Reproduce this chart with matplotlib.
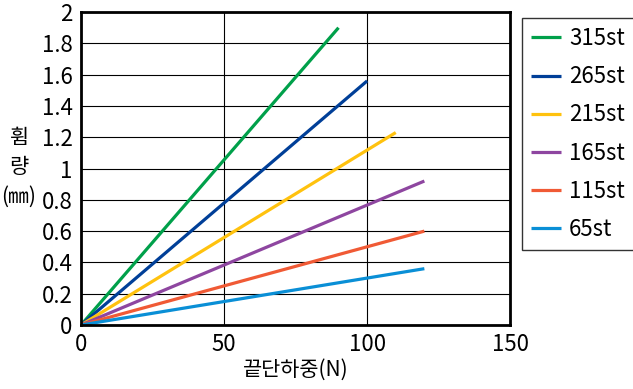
import matplotlib
matplotlib.use('Agg')
import matplotlib.pyplot as plt

plt.rcParams['font.family'] = ['Noto Sans CJK KR', 'DejaVu Sans']

# series: label, end load (N), end deflection (mm)
labels = ['315st', '265st', '215st', '165st', '115st', '65st']
end_load = [90, 100, 110, 120, 120, 120]
end_defl = [1.90, 1.56, 1.23, 0.92, 0.60, 0.36]
colors = ['#00A04A', '#003F98', '#FFC20E', '#8E46A0', '#F05A35', '#0A8FD6']

x_ticks = [0, 50, 100, 150]
y_ticks = [0, 0.2, 0.4, 0.6, 0.8, 1, 1.2, 1.4, 1.6, 1.8, 2]
y_tick_labels = ['0', '0.2', '0.4', '0.6', '0.8', '1', '1.2', '1.4', '1.6', '1.8', '2']

fig = plt.figure(figsize=(6.33, 3.89), dpi=100)
ax = fig.add_axes([0.128, 0.1645, 0.678, 0.8045])

for lab, xe, ye, c in zip(labels, end_load, end_defl, colors):
    ax.plot([0, xe], [0, ye], color=c, lw=2.3, label=lab, solid_capstyle='butt')

ax.set_xlim(0, 150)
ax.set_ylim(0, 2)
ax.set_xticks(x_ticks)
ax.set_yticks(y_ticks)
ax.set_yticklabels(y_tick_labels)
ax.tick_params(length=0, labelsize=16, pad=6)
ax.grid(True, color='black', lw=0.8)
ax.set_axisbelow(True)
for s in ax.spines.values():
    s.set_linewidth(2)

ax.set_xlabel('끝단하중(N)', fontsize=15, labelpad=2)
fig.text(0.03, 0.57, '휨\n량\n(㎜)', fontsize=15, ha='center', va='center',
         linespacing=1.45)

leg = ax.legend(loc='upper left', bbox_to_anchor=(1.028, 0.98), fontsize=16,
                frameon=True, fancybox=False, edgecolor='black',
                handlelength=1.35, labelspacing=0.68, borderpad=0.4,
                handletextpad=0.35, borderaxespad=0)
leg.get_frame().set_linewidth(1)

fig.savefig('out.png', dpi=100)
